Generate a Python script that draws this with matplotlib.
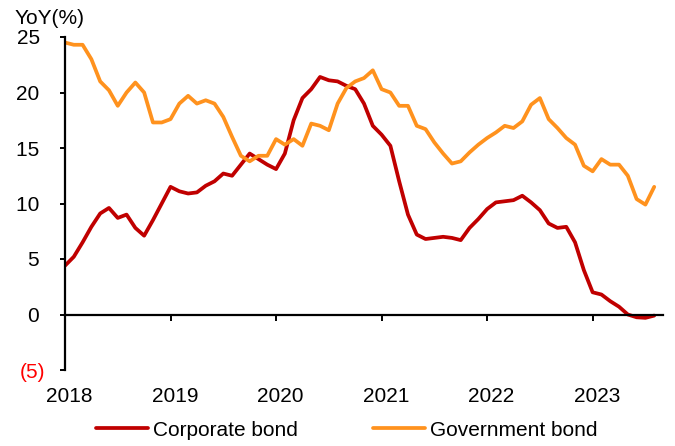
import numpy as np
import matplotlib
matplotlib.use("Agg")
import matplotlib.pyplot as plt

plt.rcParams['font.family'] = ['Liberation Sans', 'DejaVu Sans']

# monthly YoY growth, Jan 2018 - Aug 2023
corporate = [4.4, 5.2, 6.5, 7.9, 9.1, 9.6, 8.7, 9.0, 7.8, 7.1, 8.5, 10.0,
             11.5, 11.1, 10.9, 11.0, 11.6, 12.0, 12.7, 12.5, 13.5, 14.5, 14.0, 13.5,
             13.1, 14.5, 17.5, 19.5, 20.3, 21.4, 21.1, 21.0, 20.6, 20.3, 19.0, 17.0,
             16.2, 15.2, 12.0, 9.0, 7.2, 6.8, 6.9, 7.0, 6.9, 6.7, 7.8, 8.6,
             9.5, 10.1, 10.2, 10.3, 10.7, 10.1, 9.4, 8.2, 7.8, 7.9, 6.5, 4.0,
             2.0, 1.8, 1.2, 0.7, 0.0, -0.25, -0.3, -0.1]
government = [24.5, 24.3, 24.3, 23.0, 21.0, 20.2, 18.8, 20.0, 20.9, 20.0, 17.3, 17.3,
              17.6, 19.0, 19.7, 19.0, 19.3, 19.0, 17.8, 16.0, 14.3, 13.8, 14.3, 14.3,
              15.8, 15.3, 15.8, 15.2, 17.2, 17.0, 16.6, 19.0, 20.4, 21.0, 21.3, 22.0,
              20.3, 20.0, 18.8, 18.8, 17.0, 16.7, 15.5, 14.5, 13.6, 13.8, 14.6, 15.3,
              15.9, 16.4, 17.0, 16.8, 17.4, 18.9, 19.5, 17.6, 16.8, 15.9, 15.3, 13.4,
              12.9, 14.0, 13.5, 13.5, 12.5, 10.4, 9.9, 11.5]
years = ['2018', '2019', '2020', '2021', '2022', '2023']
yticks = [-5, 0, 5, 10, 15, 20, 25]
ytick_labels = ['(5)', '0 ', '5 ', '10 ', '15 ', '20 ', '25 ']

months = np.arange(len(corporate))
year_pos = np.arange(len(years)) * 12

fig = plt.figure(figsize=(6.75, 4.46), dpi=100)
ax = fig.add_axes([65/675, 1 - 370/446, 598/675, 333/446])

l1, = ax.plot(months, corporate, color='#C00000', lw=2.7, label='Corporate bond',
              solid_joinstyle='round', solid_capstyle='round')
l2, = ax.plot(months, government, color='#FF921E', lw=2.7, label='Government bond',
              solid_joinstyle='round', solid_capstyle='round')

ax.set_xlim(0, 68)
ax.set_ylim(-5, 25)

for s in ['top', 'right']:
    ax.spines[s].set_visible(False)
ax.spines['bottom'].set_position(('data', 0))
ax.spines['left'].set_linewidth(1.6)
ax.spines['bottom'].set_linewidth(1.6)

ax.set_yticks(yticks, labels=ytick_labels, fontsize=15)
ax.get_yticklabels()[0].set_color('red')
ax.tick_params(axis='y', direction='out', length=3.6, width=1.4, pad=10.5)

ax.set_xticks(year_pos, labels=[''] * len(years))
ax.tick_params(axis='x', direction='out', length=4.3, width=1.4)
for p, yr in zip(year_pos, years):
    ax.text(p + 0.5, -7.35, yr, ha='center', va='center', fontsize=15, clip_on=False)

fig.text(49.5/675, 1 - 18/446, 'YoY(%)', ha='center', va='center', fontsize=15)

fig.legend(handles=[l1, l2], loc='center', bbox_to_anchor=(347/675, 1 - 430/446),
           ncol=2, frameon=False, fontsize=15, handlelength=2.5, handletextpad=0.25,
           columnspacing=3.6, borderpad=0)

fig.savefig('out.png', dpi=100)
